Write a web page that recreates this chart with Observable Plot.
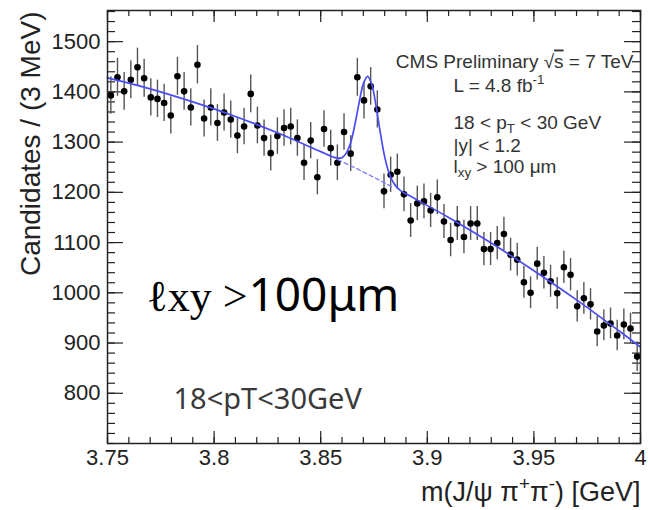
<!DOCTYPE html>
<html><head><meta charset="utf-8">
<script src="https://cdn.jsdelivr.net/npm/d3@7"></script>
<script src="https://cdn.jsdelivr.net/npm/@observablehq/plot@0.6"></script>
<style>body{margin:0;background:#fff}</style>
</head><body><div id="chart"></div>
<script>
// ---- data ----
const binStart = 3.75, binWidth = 0.003125;
const counts = [1393,1429,1401,1424,1449,1427,1389,1386,1378,1353,
                1431,1401,1369,1454,1347,1369,1338,1359,1345,1313,
                1331,1396,1333,1308,1278,1312,1328,1331,1308,1259,
                1303,1230,1326,1288,1259,1320,1277,1429,1383,1411,
                1365,1202,1235,1241,1196,1144,1178,1182,1164,1190,
                1142,1105,1138,1111,1138,1138,1087,1087,1099,1117,
                1076,1066,1021,1000,1058,1040,1023,999,1051,1036,
                973,989,977,923,935,939,915,937,929,873];
const fitMass  = [3.75,3.77,3.79,3.81,3.83,3.85,3.856,3.858,3.86,3.862,3.864,3.866,3.868,3.87,3.872,3.874,3.876,3.878,3.88,3.882,3.884,3.886,3.888,3.89,3.91,3.93,3.95,3.97,3.99,4.0];
const fitCount = [1428,1406,1380,1351,1318,1281,1270,1268,1269,1278,1298,1334,1378,1416,1431,1414,1371,1318,1271,1239,1220,1209,1202,1197,1150,1099,1044,986,924,892];
const bgMass  = [3.858,3.866,3.874,3.884];
const bgCount = [1265,1249,1232,1210];
const xMajorTicks = [3.75,3.8,3.85,3.9,3.95,4];
const yMajorTicks = [800,900,1000,1100,1200,1300,1400,1500];
const xMinorTicks = d3.range(26).map(i => +(3.75 + i*0.01).toFixed(2));
const yMinorTicks = d3.range(700, 1561, 20);
const yTitle = "Candidates / (3 MeV)";
const xTitle = "m(J/ψ π^{+}π^{-}) [GeV]";
const cmsLine = "CMS Preliminary √~{s} = 7 TeV";
const infoLines = ["L = 4.8 fb^{-1}", "18 < p_{T} < 30 GeV", "|y| < 1.2", "l_{xy} > 100 μm"];
const bigLeft = "ℓxy >", bigRight = "100μm";
const ptNote = "18<pT<30GeV";

// ---- layout ----
const W = 648, H = 510, mL = 107, mR = 8, mT = 10, mB = 67;
const fW = W - mL - mR, fH = H - mT - mB;
const ink = "#222";

const points = counts.map((c, i) => ({m: binStart + binWidth*(i+0.5), n: c, lo: c - Math.sqrt(c), hi: c + Math.sqrt(c)}));
const fit = fitMass.map((m, i) => ({m, n: fitCount[i]}));
const bg = bgMass.map((m, i) => ({m, n: bgCount[i]}));
const infoDy = [81, 118, 141, 162];

const chart = Plot.plot({
  width: W, height: H,
  marginLeft: mL, marginRight: mR, marginTop: mT, marginBottom: mB,
  style: {fontFamily: "'Liberation Sans', Arial, sans-serif", background: "#fff", color: ink},
  x: {domain: [3.75, 4.0]},
  y: {domain: [700, 1562]},
  marks: [
    // inward ticks, ROOT style
    Plot.tickX(xMajorTicks, {x: d => d, insetTop: fH - 12, stroke: ink, strokeWidth: 1.2}),
    Plot.tickX(xMinorTicks, {x: d => d, insetTop: fH - 6, stroke: ink, strokeWidth: 1.2}),
    Plot.tickX(xMajorTicks, {x: d => d, insetBottom: fH - 12, stroke: ink, strokeWidth: 1.2}),
    Plot.tickX(xMinorTicks, {x: d => d, insetBottom: fH - 6, stroke: ink, strokeWidth: 1.2}),
    Plot.tickY(yMajorTicks, {y: d => d, insetRight: fW - 16, stroke: ink, strokeWidth: 1.2}),
    Plot.tickY(yMinorTicks, {y: d => d, insetRight: fW - 8, stroke: ink, strokeWidth: 1.2}),
    Plot.tickY(yMajorTicks, {y: d => d, insetLeft: fW - 16, stroke: ink, strokeWidth: 1.2}),
    Plot.tickY(yMinorTicks, {y: d => d, insetLeft: fW - 8, stroke: ink, strokeWidth: 1.2}),
    Plot.axisX({ticks: xMajorTicks, tickSize: 0, tickPadding: 6, fontSize: 22, label: null, tickFormat: d => String(d)}),
    Plot.axisY({ticks: yMajorTicks, tickSize: 0, tickPadding: 7, fontSize: 22, label: null, tickFormat: d => String(d)}),
    // data
    Plot.ruleX(points, {x: "m", y1: "lo", y2: "hi", stroke: "#555", strokeWidth: 1.4}),
    Plot.dot(points, {x: "m", y: "n", r: 3.3, fill: "#000"}),
    // fit
    Plot.line(bg, {x: "m", y: "n", stroke: "#8080ff", strokeWidth: 1.4, strokeDasharray: "4,3"}),
    Plot.line(fit, {x: "m", y: "n", stroke: "#4b4bf5", strokeWidth: 1.7, curve: "catmull-rom"}),
    Plot.frame({stroke: ink, strokeWidth: 1.5}),
    // titles
    Plot.text([yTitle], {frameAnchor: "top-left", rotate: -90, textAnchor: "end", lineAnchor: "bottom", dx: 39 - mL, dy: 1, fontSize: 28, fill: ink}),
    Plot.text([xTitle], {frameAnchor: "bottom-right", textAnchor: "end", lineAnchor: "bottom", dx: 0, dy: 57, fontSize: 27, fill: ink}),
    // annotations
    Plot.text([cmsLine], {frameAnchor: "top-right", textAnchor: "end", lineAnchor: "bottom", dx: -7, dy: 57, fontSize: 19, fill: "#333"}),
    ...infoLines.map((t, i) => Plot.text([t], {frameAnchor: "top-left", textAnchor: "start", lineAnchor: "bottom", dx: 346, dy: infoDy[i], fontSize: 19, fill: "#333"})),
    Plot.text([bigLeft], {frameAnchor: "top-left", textAnchor: "end", lineAnchor: "bottom", dx: 140, dy: 300, fontSize: 44, fontFamily: "'Liberation Serif', 'DejaVu Serif', serif", fill: "#000"}),
    Plot.text([bigRight], {frameAnchor: "top-left", textAnchor: "start", lineAnchor: "bottom", dx: 141, dy: 300, fontSize: 46, fontFamily: "'Noto Sans', sans-serif", fill: "#000"}),
    Plot.text([ptNote], {frameAnchor: "top-left", textAnchor: "start", lineAnchor: "bottom", dx: 66, dy: 398, fontSize: 29, fontFamily: "'Noto Sans', sans-serif", fill: "#3a3a3a"})
  ]
});

// rich text: _{sub}, ^{sup}, ~{overline}
d3.select(chart).selectAll("text").each(function() {
  const s = this.textContent;
  if (!/[_^~]\{/.test(s)) return;
  const fsEl = this.closest("[font-size]");
  const fs = fsEl ? parseFloat(fsEl.getAttribute("font-size")) : 19;
  const sel = d3.select(this); sel.text(null);
  const re = /([_^~])\{([^}]*)\}/g;
  let last = 0, m, reset = 0;
  const plain = (t) => { const ts = sel.append("tspan").text(t); if (reset) { ts.attr("dy", -reset); reset = 0; } };
  while ((m = re.exec(s))) {
    if (m.index > last) plain(s.slice(last, m.index));
    if (m[1] === "~") { plain(""); sel.append("tspan").attr("text-decoration", "overline").text(m[2]); }
    else {
      const off = (m[1] === "_" ? 0.22 : -0.4) * fs;
      sel.append("tspan").attr("dy", off - reset).attr("font-size", 0.7 * fs).text(m[2]);
      reset = off;
    }
    last = re.lastIndex;
  }
  if (last < s.length) plain(s.slice(last));
});

document.getElementById("chart").append(chart);
</script>
</body></html>
